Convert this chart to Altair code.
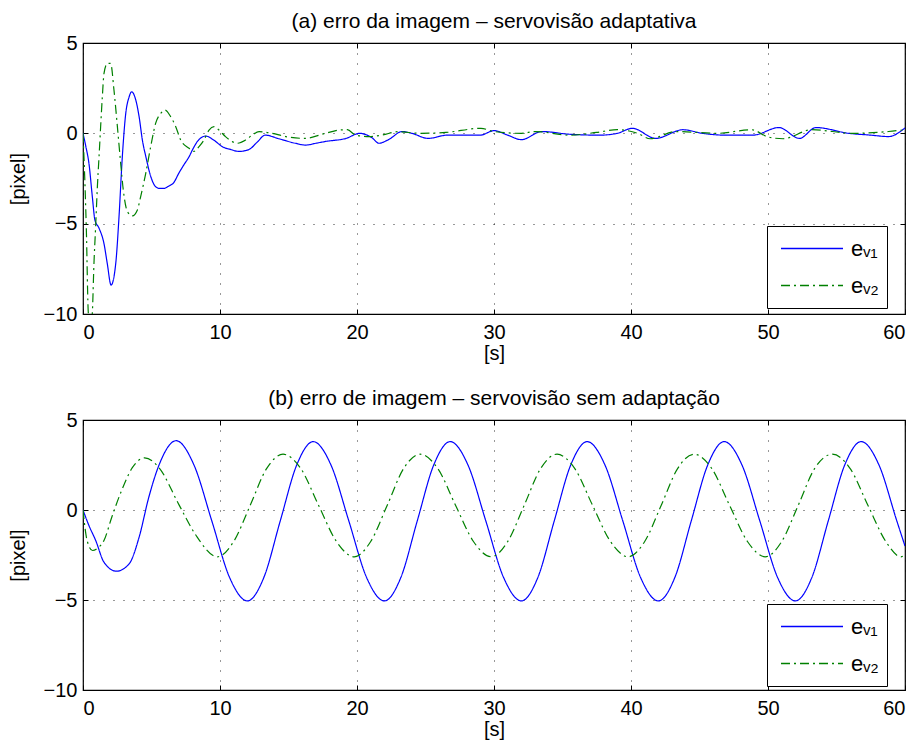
import altair as alt
import pandas as pd

# ---------------- data ----------------
# panel (a): adaptive visual servoing, image error e_v1 / e_v2 [pixel] vs time [s]
a_ev1 = [(0, 0), (0.2, -0.7), (0.44, -1.7), (0.68, -3.5), (0.87, -4.8), (1.17, -5.25),
         (1.53, -6.1), (1.77, -7.2), (2.05, -8.4), (2.39, -7.2), (2.63, -4.6), (2.87, -1.3),
         (3.12, 1.1), (3.36, 2.0), (3.55, 2.3), (3.85, 1.85), (4.1, 0.9), (4.34, -0.4),
         (4.59, -1.3), (4.95, -2.4), (5.3, -2.95), (5.6, -3.05), (5.9, -3.05), (6.3, -2.9),
         (6.6, -2.75), (7.0, -2.2), (7.4, -1.7), (7.74, -1.3), (8.0, -0.9), (8.35, -0.45),
         (8.96, -0.15), (9.5, -0.35), (10.2, -0.75), (10.8, -0.9), (11.4, -1.0), (12.1, -0.9),
         (12.7, -0.5), (13.3, -0.1), (14.3, -0.3), (15.5, -0.55), (16.25, -0.65), (17.0, -0.55),
         (17.7, -0.45), (19.2, -0.28), (20.2, 0.0), (21.1, -0.25), (21.6, -0.55), (22.3, -0.35),
         (23.3, 0.1), (24.0, 0.0), (25.2, -0.28), (26.6, -0.1), (28.0, -0.1), (29.0, -0.1),
         (30.0, 0.15), (31.0, -0.1), (32.0, -0.35), (33.5, 0.1), (35.5, -0.05), (37.7, -0.1),
         (39.0, 0.0), (40.1, 0.28), (41.8, -0.28), (43.8, 0.2), (45.2, 0.0), (46.9, -0.1),
         (48.9, -0.1), (50.8, 0.32), (52.3, -0.28), (53.5, 0.32), (55.9, 0.0), (57.5, -0.1),
         (58.8, -0.18), (60, 0.3)]
a_ev2 = [(0, 0), (0.24, -5.2), (0.39, -9.95), (0.5, -10.4), (0.62, -10.4), (0.68, -9.95),
         (0.8, -7.2), (0.92, -5.2), (1.05, -2.95), (1.17, -1.3), (1.41, 2.0), (1.53, 3.3),
         (1.78, 3.87), (2.02, 3.87), (2.26, 2.4), (2.51, 0.37), (2.75, -1.66), (2.94, -3.13),
         (3.24, -4.33), (3.6, -4.57), (3.97, -4.24), (4.21, -3.5), (4.58, -2.21), (4.94, -0.74),
         (5.3, 0.55), (5.67, 1.1), (5.99, 1.29), (6.4, 0.92), (6.77, 0.37), (7.13, -0.37),
         (7.74, -0.83), (8.1, -1.0), (8.47, -0.74), (8.83, -0.37), (9.2, 0.18), (9.56, 0.37),
         (9.93, 0.18), (10.4, -0.18), (10.9, -0.46), (11.26, -0.55), (11.87, -0.37), (12.36, -0.09),
         (12.85, 0.09), (13.8, 0.0), (14.8, -0.18), (16.2, -0.28), (17.7, 0.0), (18.7, 0.18),
         (19.3, 0.2), (19.9, -0.1), (20.9, -0.18), (21.85, -0.09), (23.0, 0.09), (24.6, 0.0),
         (26.5, 0.05), (29.05, 0.28), (30.0, 0.1), (32.0, 0.0), (33.0, 0.1), (35.5, -0.1),
         (37.5, 0.05), (39.0, 0.2), (40.5, 0.0), (41.4, -0.3), (43.3, 0.1), (46.3, 0.0),
         (48.8, 0.2), (50.0, -0.2), (51.1, -0.3), (53.2, 0.2), (56.2, 0.0), (58.8, 0.1), (60, 0.2)]

# panel (b): servoing without adaptation
b_ev1 = [(0, 0), (0.4, -0.8), (0.93, -1.7), (1.53, -2.9), (2.43, -3.4), (3.36, -3.0),
         (4.1, -1.5), (4.8, 0.7), (5.55, 2.5), (6.8, 3.85),
         (8.1, 2.5), (9.4, -0.6), (10.7, -3.75), (12.0, -5.05),
         (13.2, -3.75), (14.4, -0.6), (15.6, 2.5), (16.8, 3.8),
         (18.1, 2.5), (19.4, -0.6), (20.7, -3.75), (22.0, -5.05),
         (23.2, -3.75), (24.4, -0.6), (25.6, 2.5), (26.8, 3.8),
         (28.1, 2.5), (29.4, -0.6), (30.7, -3.75), (32.0, -5.05),
         (33.2, -3.75), (34.4, -0.6), (35.6, 2.5), (36.8, 3.8),
         (38.1, 2.5), (39.4, -0.6), (40.7, -3.75), (42.0, -5.05),
         (43.2, -3.75), (44.4, -0.6), (45.6, 2.5), (46.8, 3.8),
         (48.1, 2.5), (49.4, -0.6), (50.7, -3.75), (52.0, -5.05),
         (53.2, -3.75), (54.4, -0.6), (55.6, 2.5), (56.8, 3.8),
         (58.1, 2.5), (59.4, -0.6), (60.0, -2.0)]
b_ev2 = [(0, 0), (0.3, -1.7), (0.7, -2.25), (1.1, -2.1), (1.53, -1.7), (2.1, -0.4),
         (2.8, 1.05), (3.6, 2.35), (4.5, 2.9), (5.55, 2.35), (7.0, 0.3), (8.2, -1.35), (9.8, -2.6),
         (11.0, -1.75), (12.2, 0.25), (13.4, 2.3), (14.6, 3.1),
         (15.9, 2.3), (17.2, 0.25), (18.5, -1.75), (19.8, -2.6),
         (21.0, -1.75), (22.2, 0.25), (23.4, 2.3), (24.6, 3.1),
         (25.9, 2.3), (27.2, 0.25), (28.5, -1.75), (29.8, -2.6),
         (31.0, -1.75), (32.2, 0.25), (33.4, 2.3), (34.6, 3.1),
         (35.9, 2.3), (37.2, 0.25), (38.5, -1.75), (39.8, -2.6),
         (41.0, -1.75), (42.2, 0.25), (43.4, 2.3), (44.6, 3.1),
         (45.9, 2.3), (47.2, 0.25), (48.5, -1.75), (49.8, -2.6),
         (51.0, -1.75), (52.2, 0.25), (53.4, 2.3), (54.7, 3.1),
         (56.0, 2.3), (57.3, 0.25), (58.6, -1.75), (59.7, -2.6), (60, -2.5)]

series = ["e\u1d65\u2081", "e\u1d65\u2082"]          # e_v1, e_v2
colors = ["#0000ff", "#008000"]
dashes = [[1, 0], [9, 4, 2, 4]]
x_ticks = [0, 10, 20, 30, 40, 50, 60]
y_ticks = [-10, -5, 0, 5]
titles = ["(a) erro da imagem \u2013 servovis\u00e3o adaptativa",
          "(b) erro de imagem \u2013 servovis\u00e3o sem adapta\u00e7\u00e3o"]
x_title = "[s]"
y_title = "[pixel]"

FONT = "Liberation Sans"
FS = 20
W = 822


def make_df(s1, s2):
    d1 = pd.DataFrame(s1, columns=["t", "e"]).assign(s=series[0])
    d2 = pd.DataFrame(s2, columns=["t", "e"]).assign(s=series[1])
    return pd.concat([d1, d2], ignore_index=True)


def panel(df, title, h, leg_y):
    xs = alt.Scale(domain=[0, 60], nice=False, zero=False)
    ys = alt.Scale(domain=[-10, 5], nice=False, zero=False)
    leg = alt.Legend(title=None, orient="none", legendX=684, legendY=leg_y)
    lines = alt.Chart(df).mark_line(strokeWidth=1.2, clip=True, interpolate="monotone").encode(
        x=alt.X("t:Q", scale=xs, axis=alt.Axis(orient="bottom", values=x_ticks, title=x_title,
                                                offset=-5, tickSize=5, labelPadding=8,
                                                titlePadding=1, grid=True)),
        y=alt.Y("e:Q", scale=ys, axis=alt.Axis(orient="left", values=y_ticks, title=y_title,
                                                offset=-5, tickSize=5, labelPadding=6,
                                                titlePadding=15, grid=True)),
        color=alt.Color("s:N", scale=alt.Scale(domain=series, range=colors), legend=leg),
        strokeDash=alt.StrokeDash("s:N", scale=alt.Scale(domain=series, range=dashes), legend=leg),
    )
    frame = alt.Chart(df).mark_line(opacity=0).encode(
        x=alt.X("t:Q", scale=xs, axis=alt.Axis(orient="top", values=x_ticks, title=None,
                                                labels=False, offset=-5, tickSize=5, grid=False)),
        y=alt.Y("e:Q", scale=ys, axis=alt.Axis(orient="right", values=y_ticks, title=None,
                                                labels=False, offset=-5, tickSize=5, grid=False)),
    )
    return alt.layer(lines, frame).resolve_axis(x="independent", y="independent").properties(
        width=W, height=h, title=alt.Title(title))


pa = panel(make_df(a_ev1, a_ev2), titles[0], 271, 183)
pb = panel(make_df(b_ev1, b_ev2), titles[1], 270, 184)

chart = alt.vconcat(pa, pb, spacing=23).resolve_scale(
    color="independent", strokeDash="independent"
).resolve_legend(
    color="independent", strokeDash="independent"
).properties(
    padding={"left": 7, "top": 10, "right": 5, "bottom": 5}, background="white"
).configure_view(stroke="black", strokeWidth=1.2).configure_axis(
    labelFont=FONT, labelFontSize=FS, labelColor="black",
    titleFont=FONT, titleFontSize=FS, titleFontWeight="normal", titleColor="black",
    tickColor="black", tickWidth=1, domain=False,
    gridColor="black", gridDash=[1, 9], gridWidth=1, gridOpacity=0.8,
).configure_title(
    font=FONT, fontSize=21, fontWeight="normal", color="black", offset=1, anchor="middle", frame="group"
).configure_legend(
    symbolType="stroke", symbolSize=3844, symbolStrokeWidth=1.6, labelFont=FONT, labelFontSize=22,
    labelColor="black", strokeColor="black", fillColor="white", padding=8, rowPadding=8,
    clipHeight=29, symbolOffset=5, labelOffset=7,
)

chart.save("out.html", embed_options={"renderer": "svg", "actions": False})
